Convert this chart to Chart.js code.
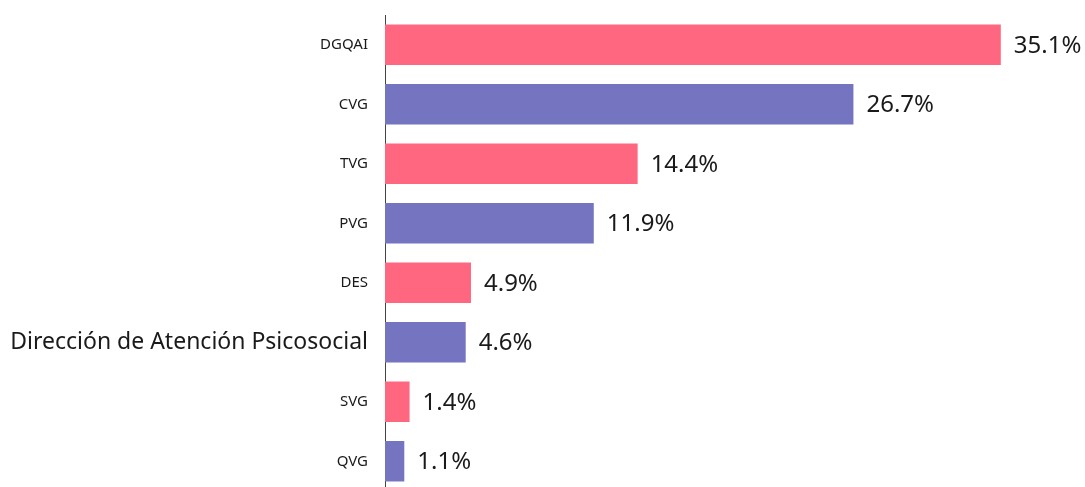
<!DOCTYPE html>
<html>
<head>
<meta charset="utf-8">
<script src="https://cdn.jsdelivr.net/npm/chart.js@4/dist/chart.umd.min.js"></script>
<style>
  html, body { margin: 0; padding: 0; background: #fff; overflow: hidden; }
  #wrap { width: 1085px; height: 491px; position: relative; }
</style>
</head>
<body>
<div id="wrap"><canvas id="chart"></canvas></div>
<script>
const categories = ['DGQAI', 'CVG', 'TVG', 'PVG', 'DES', 'Dirección de Atención Psicosocial', 'SVG', 'QVG']
const values = [35.1, 26.7, 14.4, 11.9, 4.9, 4.6, 1.4, 1.1]
const barColors = ['#FF6680', '#7474C0', '#FF6680', '#7474C0', '#FF6680', '#7474C0', '#FF6680', '#7474C0']
const highlighted = 'Dirección de Atención Psicosocial'

const FONT = '"Noto Sans", "Open Sans", sans-serif'

// draw the percent labels to the right of each bar
const valueLabels = {
  id: 'valueLabels',
  afterDatasetsDraw (chart) {
    const ctx = chart.ctx
    const meta = chart.getDatasetMeta(0)
    ctx.save()
    ctx.font = '24px ' + FONT
    ctx.fillStyle = '#1a1a1a'
    ctx.textBaseline = 'middle'
    ctx.textAlign = 'left'
    meta.data.forEach((bar, i) => {
      ctx.fillText(values[i].toFixed(1) + '%', bar.x + 13, bar.y + 1)
    })
    ctx.restore()
  }
}

new Chart(document.getElementById('chart'), {
  type: 'bar',
  data: {
    labels: categories,
    datasets: [{
      data: values,
      backgroundColor: barColors,
      borderWidth: 0,
      barPercentage: 0.68,
      categoryPercentage: 1
    }]
  },
  options: {
    indexAxis: 'y',
    responsive: true,
    maintainAspectRatio: false,
    animation: false,
    layout: { padding: { top: 15, right: 7, bottom: 0, left: 0 } },
    scales: {
      x: {
        display: false,
        min: 0,
        max: 39.5
      },
      y: {
        afterFit: (scale) => {
          scale.width = 385
          scale.paddingTop = 0
          scale.paddingBottom = 0
        },
        grid: { display: false, drawTicks: false },
        border: { display: true, color: '#444', width: 1 },
        ticks: {
          padding: 17,
          color: '#1a1a1a',
          font: (c) => {
            const lbl = categories[c.index]
            return lbl === highlighted
              ? { family: FONT, size: 23 }
              : { family: FONT, size: 15 }
          }
        }
      }
    },
    plugins: {
      legend: { display: false },
      tooltip: { enabled: false }
    }
  },
  plugins: [valueLabels]
})
</script>
</body>
</html>
